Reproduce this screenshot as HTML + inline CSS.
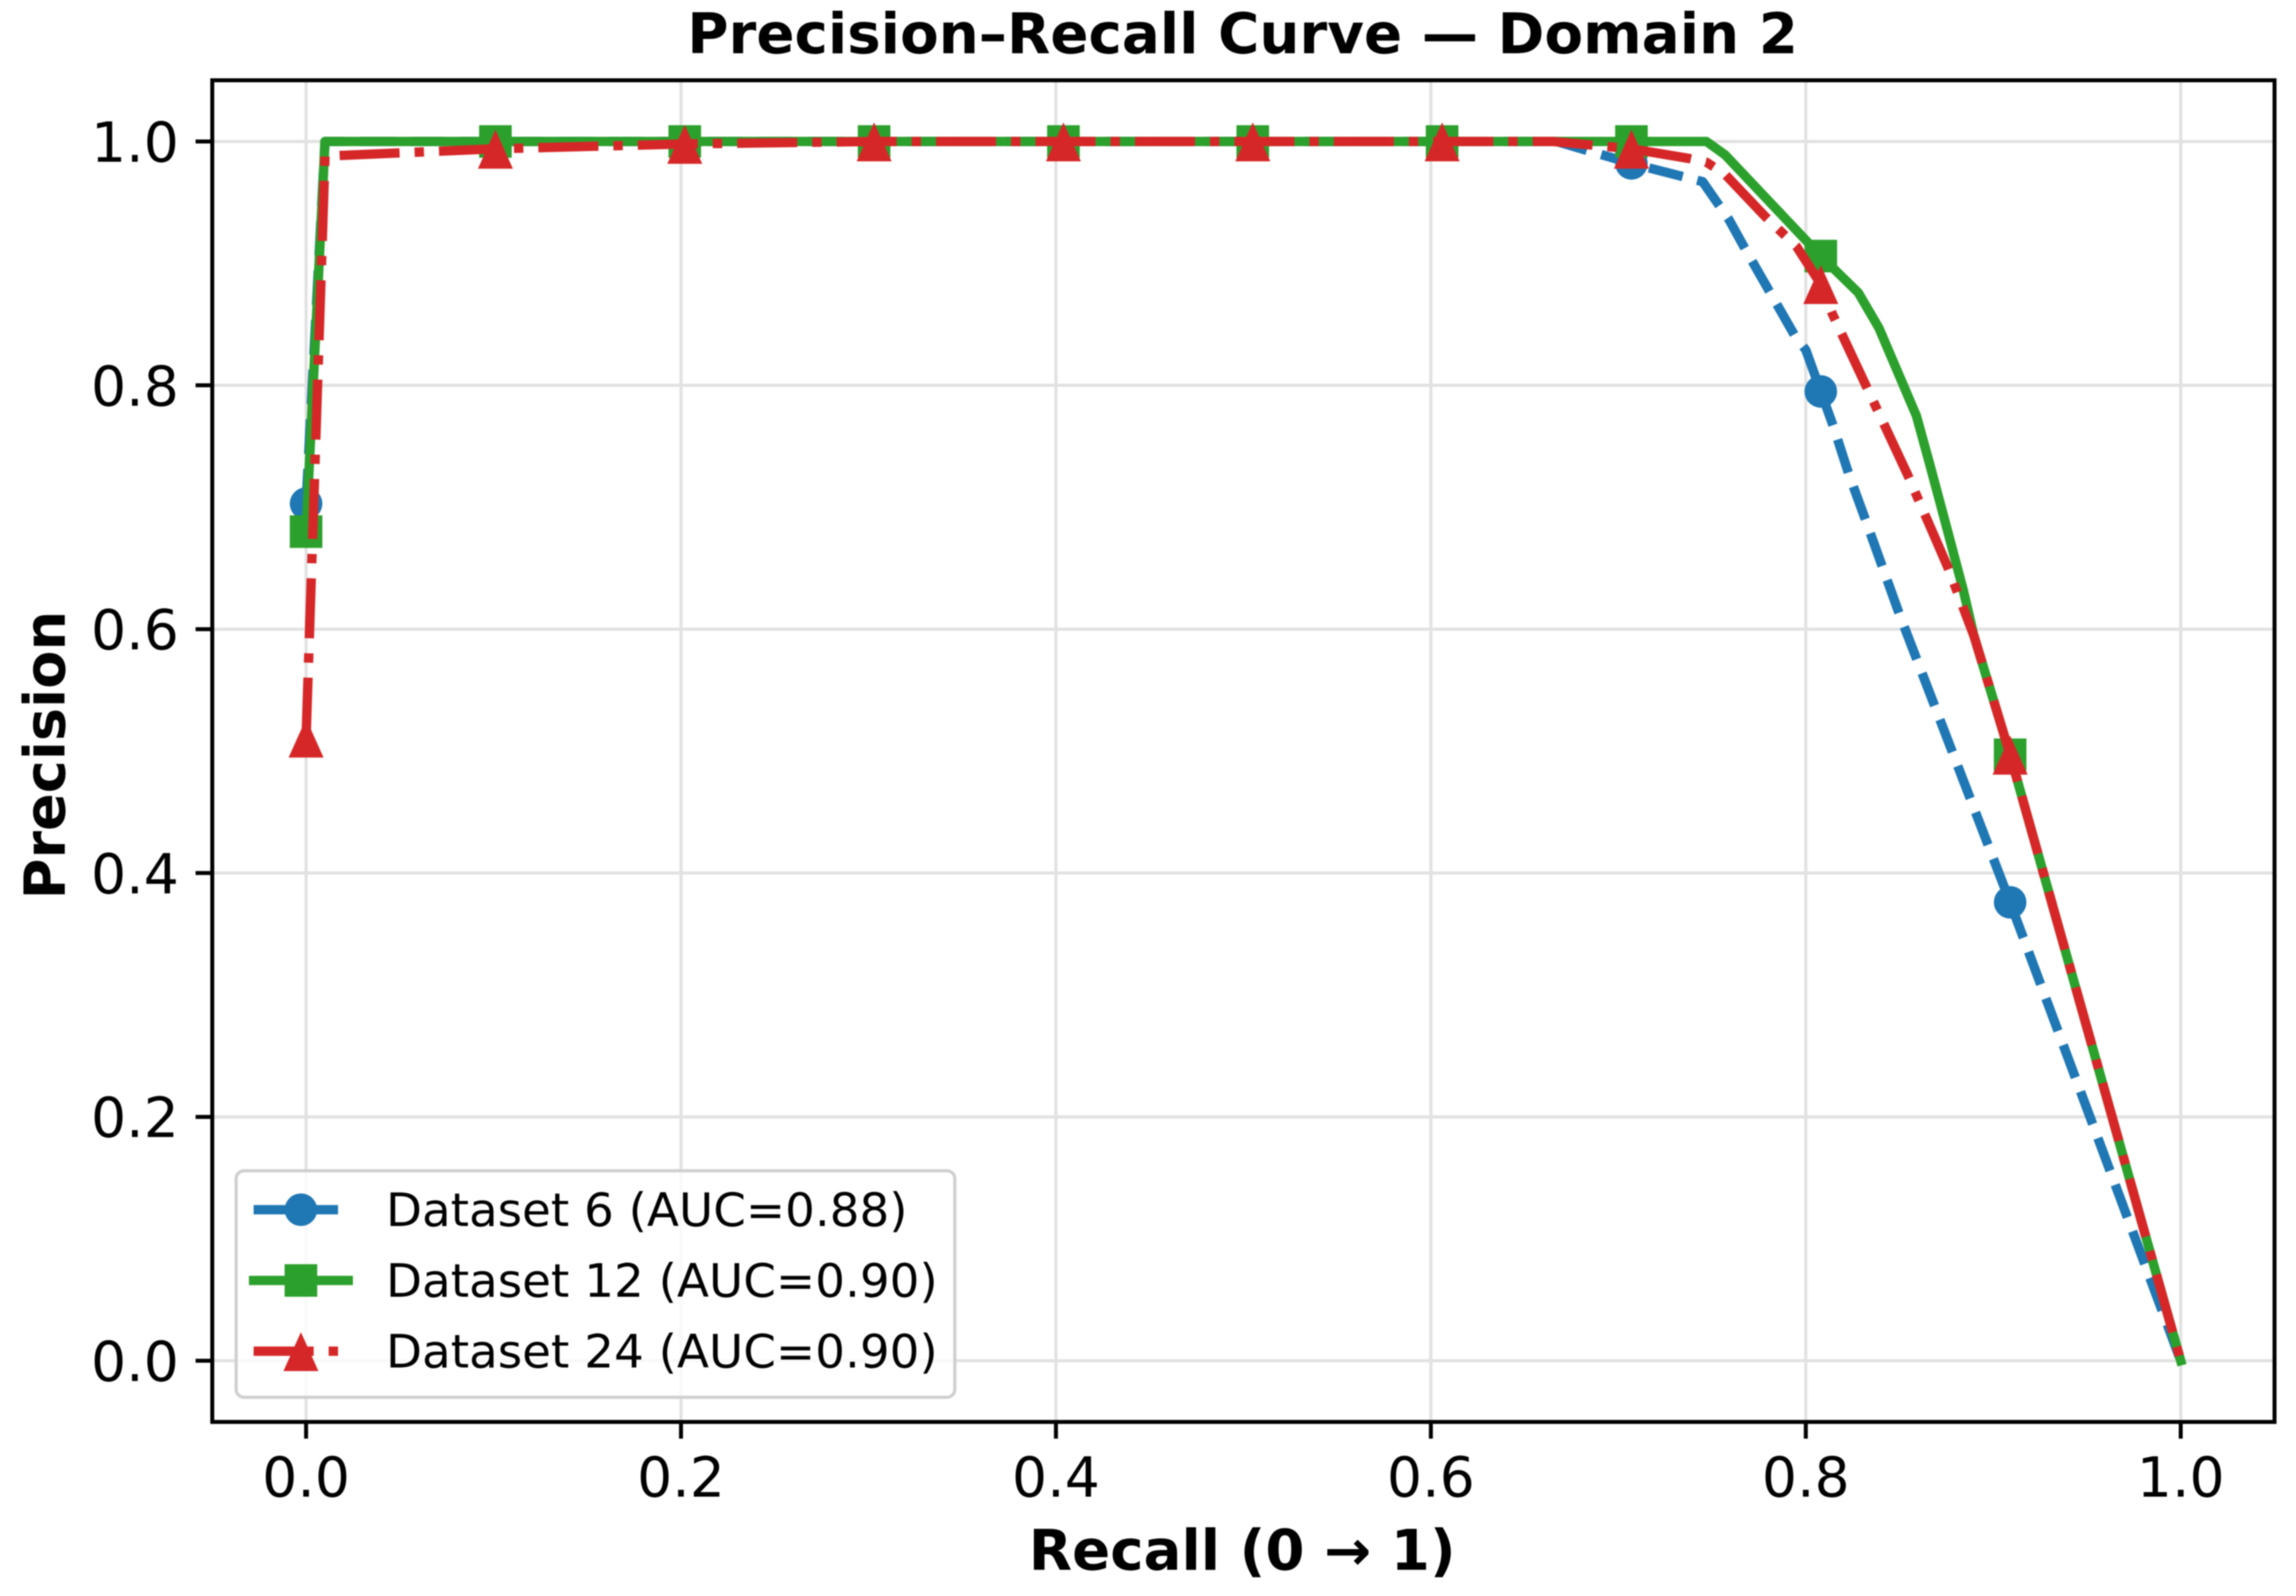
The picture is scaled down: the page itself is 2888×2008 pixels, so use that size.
<!DOCTYPE html>
<html lang="en">
<head>
<meta charset="utf-8">
<title>Precision–Recall Curve — Domain 2</title>
<style>
html,body{margin:0;padding:0;background:#fff;width:2888px;height:2008px;overflow:hidden}
svg{display:block;filter:blur(0.8px)}
text{font-family:"DejaVu Sans","Liberation Sans",sans-serif;fill:#000}
</style>
</head>
<body>
<svg id="chart" xmlns="http://www.w3.org/2000/svg" width="2888" height="2008" viewBox="0 0 2888 2008">
  <rect x="0" y="0" width="2888" height="2008" fill="#fff"/>
  <g id="grid"></g>
  <g id="series"></g>
  <rect x="267" y="101" width="2594" height="1688" fill="none" stroke="#000" stroke-width="5"/>
  <g id="ticks"></g>
  <text x="1563" y="67" text-anchor="middle" font-size="70" font-weight="700" textLength="1397" lengthAdjust="spacingAndGlyphs">Precision–Recall Curve — Domain 2</text>
  <text x="1562.5" y="1975" text-anchor="middle" font-size="70" font-weight="700" textLength="537" lengthAdjust="spacingAndGlyphs">Recall (0 → 1)</text>
  <text transform="translate(81.5 950) rotate(-90)" text-anchor="middle" font-size="71" font-weight="700" textLength="363" lengthAdjust="spacingAndGlyphs">Precision</text>
  <g id="legend"></g>
</svg>
<script>
const xTickValues = [0, 0.2, 0.4, 0.6, 0.8, 1.0];
const yTickValues = [0, 0.2, 0.4, 0.6, 0.8, 1.0];
const xTickLabels = ["0.0", "0.2", "0.4", "0.6", "0.8", "1.0"];
const yTickLabels = ["0.0", "0.2", "0.4", "0.6", "0.8", "1.0"];
const markerRecall = [0, 0.101, 0.202, 0.303, 0.404, 0.505, 0.606, 0.707, 0.808, 0.909];

const dataset6Recall = [0, 0.0101, 0.667, 0.707, 0.745, 0.759, 0.768, 0.781, 0.794, 0.800, 0.808, 0.815, 0.823, 0.832, 0.850, 0.909, 1.0];
const dataset6Precision = [0.703, 1.0, 1.0, 0.982, 0.967, 0.936, 0.911, 0.876, 0.841, 0.829, 0.795, 0.765, 0.727, 0.689, 0.612, 0.376, 0];

const dataset12Recall = [0, 0.0101, 0.747, 0.757, 0.808, 0.828, 0.839, 0.859, 0.866, 0.874, 0.884, 0.8897, 0.909, 1.0];
const dataset12Precision = [0.680, 1.0, 1.0, 0.989, 0.906, 0.876, 0.847, 0.775, 0.736, 0.690, 0.632, 0.5945, 0.497, 0];

const dataset24Recall = [0, 0.0101, 0.101, 0.202, 0.303, 0.665, 0.707, 0.738, 0.747, 0.757, 0.778, 0.795, 0.808, 0.8142, 0.832, 0.8545, 0.8757, 0.8897, 0.909, 1.0];
const dataset24Precision = [0.511, 0.988, 0.994, 0.998, 1.0, 1.0, 0.994, 0.986, 0.983, 0.973, 0.939, 0.914, 0.883, 0.8585, 0.80, 0.726, 0.651, 0.5945, 0.497, 0];

const legendLabels = ["Dataset 6 (AUC=0.88)", "Dataset 12 (AUC=0.90)", "Dataset 24 (AUC=0.90)"];

const SVG_NS = "http://www.w3.org/2000/svg";
const x0 = 385, xPerUnit = 2358, y0 = 1712, yPerUnit = 1534;
function xScale(v) { return x0 + v * xPerUnit; }
function yScale(v) { return y0 - v * yPerUnit; }
function make(tag, attrs, parent) {
  const el = document.createElementNS(SVG_NS, tag);
  for (const k in attrs) el.setAttribute(k, attrs[k]);
  parent.appendChild(el);
  return el;
}
function interp(xs, ys, x) {
  for (let i = 0; i < xs.length - 1; i++) {
    if (x >= xs[i] && x <= xs[i + 1]) {
      const t = (x - xs[i]) / ((xs[i + 1] - xs[i]) || 1);
      return ys[i] + t * (ys[i + 1] - ys[i]);
    }
  }
  return ys[ys.length - 1];
}
function drawMarker(kind, cx, cy, color, parent) {
  let el;
  if (kind === "circle") {
    el = make("circle", { cx: cx, cy: cy, r: 20.5, fill: color }, parent);
  } else if (kind === "square") {
    el = make("rect", { x: cx - 20.5, y: cy - 20.5, width: 41, height: 41, fill: color }, parent);
  } else {
    el = make("polygon", { points: (cx) + "," + (cy - 24) + " " + (cx + 22) + "," + (cy + 25) + " " + (cx - 22) + "," + (cy + 25), fill: color }, parent);
  }
  return el;
}

const gridLayer = document.getElementById("grid");
const tickLayer = document.getElementById("ticks");
const seriesLayer = document.getElementById("series");
const legendLayer = document.getElementById("legend");

xTickValues.forEach(function (v, i) {
  const x = xScale(v);
  const g = make("line", { x1: x, x2: x, y1: 101, y2: 1789, stroke: "#e2e2e2", "stroke-width": 4 }, gridLayer);
  
  
  const t = make("line", { x1: x, x2: x, y1: 1789, y2: 1810, stroke: "#000", "stroke-width": 5 }, tickLayer);
  
  
  const l = make("text", { x: x, y: 1883, "text-anchor": "middle", "font-size": 69.5 }, tickLayer);
  l.textContent = xTickLabels[i];
  
  
});
yTickValues.forEach(function (v, i) {
  const y = yScale(v);
  const g = make("line", { x1: 267, x2: 2861, y1: y, y2: y, stroke: "#e2e2e2", "stroke-width": 4 }, gridLayer);
  
  
  const t = make("line", { x1: 246, x2: 267, y1: y, y2: y, stroke: "#000", "stroke-width": 5 }, tickLayer);
  
  
  const l = make("text", { x: 225, y: y + 25.5, "text-anchor": "end", "font-size": 69.5 }, tickLayer);
  l.textContent = yTickLabels[i];
  
  
});

const LW = 11.8;
const dashBlue = (3.7 * LW) + " " + (1.6 * LW);
const dashRed = (6.4 * LW) + " " + (1.6 * LW) + " " + LW + " " + (1.6 * LW);

function drawSeries(name, xs, ys, color, dash, marker) {
  const group = make("g", {}, seriesLayer);
  
  
  const pts = xs.map(function (x, i) { return xScale(x).toFixed(1) + "," + yScale(ys[i]).toFixed(1); }).join(" ");
  const line = make("polyline", { points: pts, fill: "none", stroke: color, "stroke-width": LW, "stroke-linejoin": "round", "stroke-linecap": dash ? "butt" : "square" }, group);
  if (dash) line.setAttribute("stroke-dasharray", dash);
  
  
  markerRecall.forEach(function (r) {
    const m = drawMarker(marker, xScale(r), yScale(interp(xs, ys, r)), color, group);
    
    
  });
}
drawSeries("dataset-6", dataset6Recall, dataset6Precision, "#1f77b4", dashBlue, "circle");
drawSeries("dataset-12", dataset12Recall, dataset12Precision, "#2ca02c", null, "square");
drawSeries("dataset-24", dataset24Recall, dataset24Precision, "#d62728", dashRed, "triangle");

const legendBox = make("rect", { x: 297, y: 1473, width: 904, height: 285, rx: 10, ry: 10, fill: "rgba(255,255,255,0.8)", stroke: "#cfcfcf", "stroke-width": 4 }, legendLayer);



const legendRowY = [1522, 1611, 1700];
const legendColors = ["#1f77b4", "#2ca02c", "#d62728"];
const legendDash = [dashBlue, null, dashRed];
const legendMarkers = ["circle", "square", "triangle"];
const legendWidths = [656, 694, 694];
legendLabels.forEach(function (label, i) {
  const row = make("g", {}, legendLayer);
  
  
  const h = make("line", { x1: 319, x2: 438, y1: legendRowY[i], y2: legendRowY[i], stroke: legendColors[i], "stroke-width": LW, "stroke-linecap": legendDash[i] ? "butt" : "square" }, row);
  if (legendDash[i]) h.setAttribute("stroke-dasharray", legendDash[i]);
  
  
  const m = drawMarker(legendMarkers[i], 378.5, legendRowY[i], legendColors[i], row);
  
  
  const t = make("text", { x: 485.5, y: legendRowY[i] + 20.5, "font-size": 58, textLength: legendWidths[i], lengthAdjust: "spacingAndGlyphs" }, row);
  t.textContent = label;
  
  
});
</script>
</body>
</html>
